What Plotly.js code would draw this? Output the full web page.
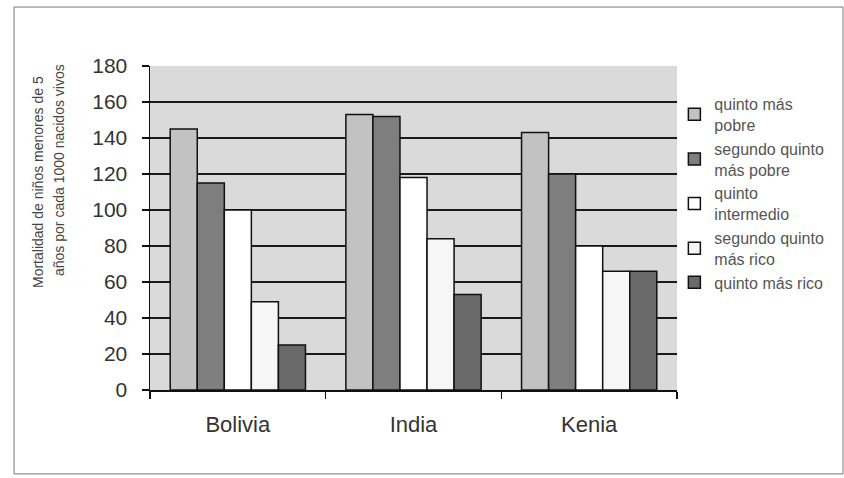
<!DOCTYPE html>
<html>
<head>
<meta charset="utf-8">
<script src="https://cdn.plot.ly/plotly-3.0.1.min.js"></script>
<style>
  html, body { margin: 0; padding: 0; background: #ffffff; }
  #chart { width: 844px; height: 478px; }
</style>
</head>
<body>
<div id="chart"></div>
<script>
// Data
const countries = ["Bolivia", "India", "Kenia"];
const seriesNames = [
  "quinto más<br>pobre",
  "segundo quinto<br>más pobre",
  "quinto<br>intermedio",
  "segundo quinto<br>más rico",
  "quinto más rico"
];
const quintoMasPobre        = [145, 153, 143];
const segundoQuintoMasPobre = [115, 152, 120];
const quintoIntermedio      = [100, 118, 80];
const segundoQuintoMasRico  = [49, 84, 66];
const quintoMasRico         = [25, 53, 66];
const yTickVals = [0, 20, 40, 60, 80, 100, 120, 140, 160, 180];
const yTitleLines = ["Mortalidad de niños menores de 5", "años por cada 1000 nacidos vivos"];

const seriesValues = [quintoMasPobre, segundoQuintoMasPobre, quintoIntermedio, segundoQuintoMasRico, quintoMasRico];
const fills = ["#c2c2c2", "#7e7e7e", "#ffffff", "#f6f6f6", "#6a6a6a"];

const traces = seriesValues.map((vals, i) => ({
  type: "bar",
  x: countries,
  y: vals,
  name: seriesNames[i],
  marker: { color: fills[i], line: { color: "#111111", width: 1.5 } },
  hoverinfo: "x+y"
}));

const layout = {
  width: 844,
  height: 478,
  margin: { l: 150, r: 167, t: 66, b: 88, autoexpand: false },
  paper_bgcolor: "#ffffff",
  plot_bgcolor: "#dadada",
  font: { family: "Liberation Sans, Arial, sans-serif", color: "#333333" },
  barmode: "group",
  bargap: 0.23,
  bargroupgap: 0,
  showlegend: true,
  legend: {
    x: 0.995, xanchor: "left",
    y: 0.935, yanchor: "top",
    font: { size: 16, color: "#555555" },
    bgcolor: "rgba(0,0,0,0)",
    itemwidth: 30,
    tracegroupgap: 0
  },
  xaxis: {
    type: "category",
    showline: true, linecolor: "#111111", linewidth: 1.5,
    ticks: "outside", tickson: "boundaries", ticklen: 7, tickcolor: "#111111", tickwidth: 1.5,
    tickfont: { size: 22, color: "#333333" },
    ticklabelstandoff: 14,
    showgrid: false
  },
  yaxis: {
    range: [0, 180],
    tickvals: yTickVals,
    showline: true, linecolor: "#111111", linewidth: 1.5,
    ticks: "outside", ticklen: 7, tickcolor: "#111111", tickwidth: 1.5,
    tickfont: { size: 21, color: "#333333" },
    ticklabelstandoff: 10,
    showgrid: true, gridcolor: "#1a1a1a", gridwidth: 1.5,
    zeroline: false
  },
  annotations: [
    { text: yTitleLines[0], xref: "paper", yref: "paper", x: -0.2135, y: 0.6435,
      xanchor: "center", yanchor: "middle", textangle: -90, showarrow: false,
      font: { size: 14, color: "#444444" } },
    { text: yTitleLines[1], xref: "paper", yref: "paper", x: -0.1727, y: 0.679,
      xanchor: "center", yanchor: "middle", textangle: -90, showarrow: false,
      font: { size: 14, color: "#444444" } }
  ],
  shapes: [
    { type: "rect", xref: "paper", yref: "paper",
      x0: -0.258, x1: 1.315, y0: -0.259, y1: 1.182,
      line: { color: "#777777", width: 1 }, fillcolor: "rgba(0,0,0,0)", layer: "above" }
  ]
};

Plotly.newPlot("chart", traces, layout, { displayModeBar: false, staticPlot: true });
</script>
</body>
</html>
